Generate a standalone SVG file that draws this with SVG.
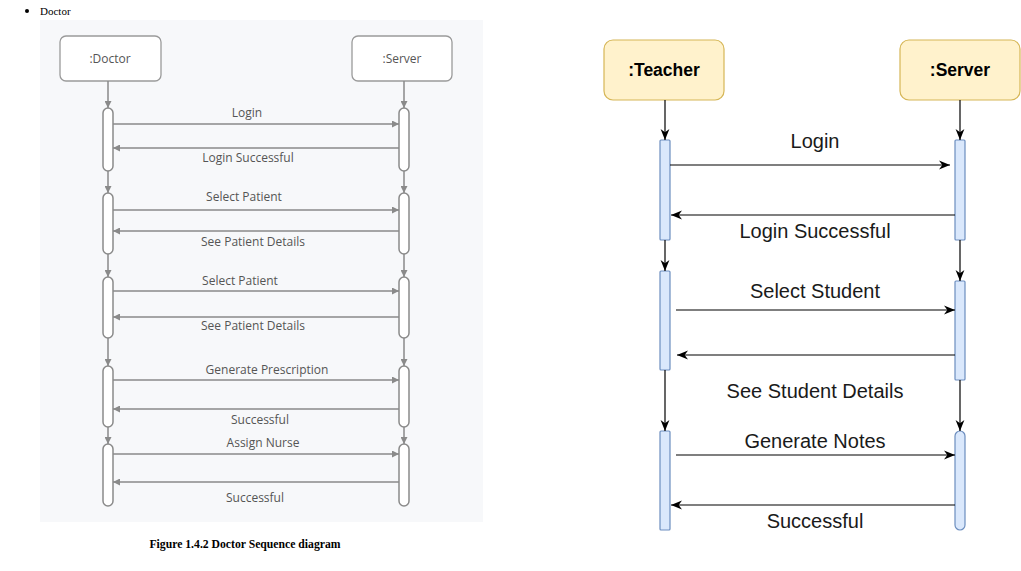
<svg xmlns="http://www.w3.org/2000/svg" width="1021" height="571" viewBox="0 0 1021 571">
<defs>
<style>
.gl{stroke:#8a8a8a;stroke-width:1.5;fill:none}
.gbar{fill:#fff;stroke:#8a8a8a;stroke-width:1.5}
.gbox{fill:#fff;stroke:#9a9a9a;stroke-width:1.3}
.gt{font-family:"Open Sans","Noto Sans",sans-serif;font-size:12px;fill:#555;text-anchor:middle}
.bl{stroke:#000;stroke-width:1.2;fill:none}
.bbar{fill:#dae8fc;stroke:#6c8ebf;stroke-width:1.2}
.ybox{fill:#fff2cc;stroke:#d6b656;stroke-width:1.2}
.bt{font-family:"Liberation Sans",Arial,sans-serif;font-size:20px;fill:#1a1a1a;text-anchor:middle}
.ht{font-family:"Liberation Sans",Arial,sans-serif;font-size:17.5px;font-weight:bold;fill:#000;text-anchor:middle}
.st{font-family:"Liberation Serif","Times New Roman",serif;fill:#000}
</style>
<marker id="ga" viewBox="0 0 10 10" refX="10" refY="5" markerWidth="7" markerHeight="7" markerUnits="userSpaceOnUse" orient="auto"><path d="M0,0 L10,5 L0,10 z" fill="#8a8a8a"/></marker>
<marker id="ba" viewBox="0 0 10 10" refX="10" refY="5" markerWidth="11" markerHeight="11" markerUnits="userSpaceOnUse" orient="auto"><path d="M0,1 L10,5 L0,9 L3,5 z" fill="#000"/></marker>
</defs>
<rect width="1021" height="571" fill="#fff"/>

<g id="left-figure">
<circle cx="27" cy="11" r="2" fill="#000"/>
<text class="st" x="40" y="15" font-size="11">Doctor</text>
<rect x="40" y="20" width="443" height="502" fill="#f7f8fa"/>
<text class="st" x="245" y="548" font-size="11.7" font-weight="bold" text-anchor="middle">Figure 1.4.2 Doctor Sequence diagram</text>
</g>

<g id="doctor">
<rect class="gbox" x="60" y="36" width="101" height="45" rx="6"/>
<text class="gt" x="110" y="63">:Doctor</text>
</g>
<g id="server-left">
<rect class="gbox" x="352" y="36" width="100" height="45" rx="6"/>
<text class="gt" x="402" y="63">:Server</text>
</g>

<g id="doctor-activations">
<rect class="gbar" x="103" y="108" width="10" height="63" rx="5"/>
<rect class="gbar" x="103" y="193" width="10" height="61" rx="5"/>
<rect class="gbar" x="103" y="277" width="10" height="61" rx="5"/>
<rect class="gbar" x="103" y="366" width="10" height="61" rx="5"/>
<rect class="gbar" x="103" y="444" width="10" height="62" rx="5"/>
</g>
<g id="server-left-activations">
<rect class="gbar" x="399" y="108" width="10" height="63" rx="5"/>
<rect class="gbar" x="399" y="193" width="10" height="61" rx="5"/>
<rect class="gbar" x="399" y="277" width="10" height="61" rx="5"/>
<rect class="gbar" x="399" y="366" width="10" height="61" rx="5"/>
<rect class="gbar" x="399" y="444" width="10" height="62" rx="5"/>
</g>

<g id="left-connectors">
<path class="gl" marker-end="url(#ga)" d="M108,81 V108"/>
<path class="gl" marker-end="url(#ga)" d="M108,171 V193"/>
<path class="gl" marker-end="url(#ga)" d="M108,254 V277"/>
<path class="gl" marker-end="url(#ga)" d="M108,338 V366"/>
<path class="gl" marker-end="url(#ga)" d="M108,427 V444"/>
<path class="gl" marker-end="url(#ga)" d="M404,81 V108"/>
<path class="gl" marker-end="url(#ga)" d="M404,171 V193"/>
<path class="gl" marker-end="url(#ga)" d="M404,254 V277"/>
<path class="gl" marker-end="url(#ga)" d="M404,338 V366"/>
<path class="gl" marker-end="url(#ga)" d="M404,427 V444"/>
<path class="gl" marker-end="url(#ga)" d="M113,124 H399"/>
<path class="gl" marker-end="url(#ga)" d="M399,148 H113"/>
<path class="gl" marker-end="url(#ga)" d="M113,210 H399"/>
<path class="gl" marker-end="url(#ga)" d="M399,231 H113"/>
<path class="gl" marker-end="url(#ga)" d="M113,291 H399"/>
<path class="gl" marker-end="url(#ga)" d="M399,317 H113"/>
<path class="gl" marker-end="url(#ga)" d="M113,380 H399"/>
<path class="gl" marker-end="url(#ga)" d="M399,409 H113"/>
<path class="gl" marker-end="url(#ga)" d="M113,454 H399"/>
<path class="gl" marker-end="url(#ga)" d="M399,482 H113"/>
<text class="gt" x="247" y="117">Login</text>
<text class="gt" x="248" y="162">Login Successful</text>
<text class="gt" x="244" y="201">Select Patient</text>
<text class="gt" x="253" y="246">See Patient Details</text>
<text class="gt" x="240" y="285">Select Patient</text>
<text class="gt" x="253" y="330">See Patient Details</text>
<text class="gt" x="267" y="374">Generate Prescription</text>
<text class="gt" x="260" y="424">Successful</text>
<text class="gt" x="263" y="447">Assign Nurse</text>
<text class="gt" x="255" y="502">Successful</text>
</g>

<g id="teacher">
<rect class="ybox" x="604" y="40" width="120" height="60" rx="9"/>
<text class="ht" x="664" y="76">:Teacher</text>
</g>
<g id="server">
<rect class="ybox" x="900" y="40" width="120" height="60" rx="9"/>
<text class="ht" x="960" y="76">:Server</text>
</g>

<g id="teacher-activations">
<rect class="bbar" x="660" y="140" width="10" height="100" rx="1"/>
<rect class="bbar" x="660" y="271" width="10" height="99" rx="1"/>
<rect class="bbar" x="660" y="431" width="10" height="99" rx="1"/>
</g>
<g id="server-activations">
<rect class="bbar" x="955" y="140" width="10" height="100" rx="1"/>
<rect class="bbar" x="955" y="281" width="10" height="99" rx="1"/>
<rect class="bbar" x="955" y="431" width="10" height="99" rx="5"/>
</g>

<g id="right-connectors">
<path class="bl" marker-end="url(#ba)" d="M665,100 V140"/>
<path class="bl" marker-end="url(#ba)" d="M665,240 V271"/>
<path class="bl" marker-end="url(#ba)" d="M665,370 V431"/>
<path class="bl" marker-end="url(#ba)" d="M960,100 V140"/>
<path class="bl" marker-end="url(#ba)" d="M960,240 V281"/>
<path class="bl" marker-end="url(#ba)" d="M960,380 V431"/>
<path class="bl" marker-end="url(#ba)" d="M670,165 H950"/>
<path class="bl" marker-end="url(#ba)" d="M955,215 H671"/>
<path class="bl" marker-end="url(#ba)" d="M676,310 H955"/>
<path class="bl" marker-end="url(#ba)" d="M955,355 H677"/>
<path class="bl" marker-end="url(#ba)" d="M676,455 H955"/>
<path class="bl" marker-end="url(#ba)" d="M955,505 H671"/>
<text class="bt" x="815" y="148">Login</text>
<text class="bt" x="815" y="238">Login Successful</text>
<text class="bt" x="815" y="298">Select Student</text>
<text class="bt" x="815" y="398">See Student Details</text>
<text class="bt" x="815" y="448">Generate Notes</text>
<text class="bt" x="815" y="528">Successful</text>
</g>
</svg>
